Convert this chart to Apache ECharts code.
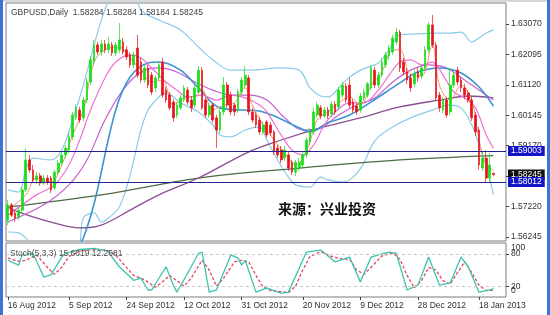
<!DOCTYPE html>
<html>
<head>
<meta charset="utf-8">
<script src="https://cdn.jsdelivr.net/npm/echarts@6/dist/echarts.min.js"></script>
<style>
html, body { margin: 0; padding: 0; background: #fff; }
#chart { width: 550px; height: 315px; }
</style>
</head>
<body>
<div id="chart"></div>
<script>
// daily bars: Sunday..Friday sessions, closed on Christmas and New Year
const firstBar = [2012, 7, 16]
const barSlots = 139
const closedDays = ['2012-12-25', '2013-01-01']
const dateTicks = ['16 Aug 2012', '5 Sep 2012', '24 Sep 2012', '12 Oct 2012', '31 Oct 2012',
    '20 Nov 2012', '9 Dec 2012', '28 Dec 2012', '18 Jan 2013']

const opens = [1.5678, 1.5727, 1.5701, 1.5688, 1.5710, 1.5775, 1.5871, 1.5839, 1.5807, 1.5820,
    1.5797, 1.5813, 1.5813, 1.5781, 1.5832, 1.5861, 1.5887, 1.5903, 1.5945, 1.6006,
    1.6031, 1.6006, 1.6063, 1.6121, 1.6185, 1.6240, 1.6217, 1.6243, 1.6224, 1.6240,
    1.6214, 1.6224, 1.6249, 1.6224, 1.6208, 1.6176, 1.6230, 1.6185, 1.6127, 1.6166,
    1.6143, 1.6102, 1.6134, 1.6185, 1.6095, 1.6079, 1.6057, 1.6015, 1.6038, 1.6063,
    1.6095, 1.6063, 1.6047, 1.6089, 1.6159, 1.6063, 1.6015, 1.6047, 1.6006, 1.5967,
    1.6025, 1.6111, 1.6079, 1.6047, 1.6031, 1.6089, 1.6111, 1.6134, 1.6025, 1.6015,
    1.5999, 1.5961, 1.5993, 1.5983, 1.5961, 1.5909, 1.5903, 1.5877, 1.5887, 1.5864,
    1.5832, 1.5845, 1.5855, 1.5887, 1.5929, 1.5961, 1.6015, 1.6038, 1.6012, 1.6031,
    1.6018, 1.6050, 1.6041, 1.6079, 1.6108, 1.6111, 1.6057, 1.6044, 1.6031, 1.6070,
    1.6079, 1.6102, 1.6159, 1.6111, 1.6143, 1.6176, 1.6204, 1.6217, 1.6249, 1.6281,
    1.6185, 1.6153, 1.6134, 1.6115, 1.6153, 1.6140, 1.6166, 1.6224, 1.6304, 1.6240,
    1.6079, 1.6031, 1.6063, 1.6025, 1.6111, 1.6159, 1.6127, 1.6102, 1.6086, 1.6063,
    1.6015, 1.5967, 1.5845, 1.5877, 1.5813, 1.58284]
const closes = [1.5727, 1.5694, 1.5685, 1.5710, 1.5775, 1.5871, 1.5839, 1.5807, 1.5820, 1.5797,
    1.5813, 1.5800, 1.5775, 1.5832, 1.5861, 1.5887, 1.5909, 1.5945, 1.6015, 1.6038,
    1.5999, 1.6063, 1.6121, 1.6192, 1.6240, 1.6217, 1.6243, 1.6224, 1.6243, 1.6214,
    1.6240, 1.6256, 1.6217, 1.6201, 1.6176, 1.6208, 1.6143, 1.6127, 1.6166, 1.6111,
    1.6089, 1.6134, 1.6176, 1.6079, 1.6063, 1.6038, 1.6006, 1.6047, 1.6070, 1.6102,
    1.6057, 1.6038, 1.6102, 1.6159, 1.6038, 1.6015, 1.6044, 1.5999, 1.5967, 1.6025,
    1.6111, 1.6047, 1.6025, 1.6025, 1.6089, 1.6127, 1.6143, 1.6025, 1.5999, 1.5983,
    1.5961, 1.5983, 1.5951, 1.5958, 1.5897, 1.5887, 1.5871, 1.5903, 1.5845, 1.5832,
    1.5864, 1.5864, 1.5887, 1.5935, 1.5961, 1.6025, 1.6047, 1.6012, 1.6031, 1.6012,
    1.6050, 1.6025, 1.6095, 1.6111, 1.6063, 1.6047, 1.6031, 1.6025, 1.6076, 1.6089,
    1.6115, 1.6166, 1.6111, 1.6143, 1.6185, 1.6208, 1.6230, 1.6262, 1.6281, 1.6166,
    1.6153, 1.6127, 1.6102, 1.6147, 1.6134, 1.6166, 1.6224, 1.6304, 1.6240, 1.6070,
    1.6038, 1.6063, 1.6015, 1.6111, 1.6143, 1.6121, 1.6102, 1.6079, 1.6063, 1.6006,
    1.5961, 1.5855, 1.5877, 1.5813, 1.5855, 1.58245]
const lows = [1.5662, 1.5688, 1.5672, 1.5678, 1.5701, 1.5768, 1.5829, 1.5797, 1.5794, 1.5788,
    1.5791, 1.5791, 1.5765, 1.5775, 1.5823, 1.5852, 1.5877, 1.5893, 1.5935, 1.5999,
    1.5990, 1.5996, 1.6054, 1.6111, 1.6176, 1.6208, 1.6204, 1.6214, 1.6214, 1.6204,
    1.6204, 1.6214, 1.6208, 1.6192, 1.6166, 1.6166, 1.6134, 1.6118, 1.6118, 1.6102,
    1.6079, 1.6089, 1.6127, 1.6070, 1.6054, 1.6031, 1.5993, 1.6006, 1.6031, 1.6057,
    1.6047, 1.6025, 1.6038, 1.6083, 1.6031, 1.6006, 1.6006, 1.5990, 1.5909, 1.5958,
    1.6015, 1.6038, 1.6015, 1.6012, 1.6022, 1.6079, 1.6102, 1.6015, 1.5990, 1.5974,
    1.5951, 1.5951, 1.5942, 1.5948, 1.5887, 1.5877, 1.5861, 1.5868, 1.5836, 1.5823,
    1.5820, 1.5836, 1.5845, 1.5877, 1.5919, 1.5951, 1.6006, 1.6002, 1.6006, 1.6002,
    1.6009, 1.6015, 1.6031, 1.6070, 1.6054, 1.6038, 1.6022, 1.6015, 1.6022, 1.6060,
    1.6070, 1.6095, 1.6102, 1.6102, 1.6134, 1.6166, 1.6192, 1.6208, 1.6240, 1.6153,
    1.6143, 1.6115, 1.6089, 1.6105, 1.6121, 1.6131, 1.6159, 1.6214, 1.6230, 1.6063,
    1.6025, 1.6022, 1.6006, 1.6015, 1.6102, 1.6111, 1.6089, 1.6066, 1.6054, 1.5996,
    1.5948, 1.5839, 1.5836, 1.5800, 1.5800, 1.58184]
const highs = [1.5743, 1.5733, 1.5710, 1.5717, 1.5784, 1.5909, 1.5887, 1.5855, 1.5832, 1.5829,
    1.5823, 1.5823, 1.5820, 1.5839, 1.5871, 1.5897, 1.5919, 1.5958, 1.6025, 1.6050,
    1.6041, 1.6073, 1.6134, 1.6204, 1.6256, 1.6249, 1.6256, 1.6256, 1.6265, 1.6249,
    1.6249, 1.6310, 1.6262, 1.6236, 1.6217, 1.6217, 1.6272, 1.6198, 1.6176, 1.6176,
    1.6153, 1.6143, 1.6185, 1.6198, 1.6105, 1.6089, 1.6066, 1.6057, 1.6079, 1.6111,
    1.6105, 1.6076, 1.6111, 1.6172, 1.6169, 1.6073, 1.6054, 1.6054, 1.6015, 1.6038,
    1.6137, 1.6121, 1.6089, 1.6054, 1.6099, 1.6137, 1.6172, 1.6143, 1.6038, 1.6025,
    1.6009, 1.5993, 1.5999, 1.5993, 1.5967, 1.5919, 1.5916, 1.5916, 1.5897, 1.5871,
    1.5871, 1.5877, 1.5897, 1.5945, 1.5974, 1.6038, 1.6057, 1.6047, 1.6041, 1.6041,
    1.6060, 1.6060, 1.6105, 1.6121, 1.6118, 1.6134, 1.6066, 1.6054, 1.6086, 1.6099,
    1.6121, 1.6176, 1.6169, 1.6153, 1.6198, 1.6217, 1.6240, 1.6272, 1.6294, 1.6288,
    1.6198, 1.6166, 1.6147, 1.6159, 1.6166, 1.6176, 1.6236, 1.6313, 1.6336, 1.6249,
    1.6089, 1.6073, 1.6073, 1.6166, 1.6153, 1.6169, 1.6137, 1.6115, 1.6095, 1.6073,
    1.6025, 1.5977, 1.5897, 1.5903, 1.5893, 1.58284]

// indicator lines as [bar index, price]
const maFast = [[0, 1.5710], [5, 1.5759], [8, 1.5813], [12, 1.5800], [15, 1.5855], [18, 1.5951], [21, 1.6031],
    [24, 1.6185], [27, 1.6224], [31, 1.6233], [34, 1.6198], [37, 1.6159], [40, 1.6121], [43, 1.6127],
    [46, 1.6047], [49, 1.6070], [52, 1.6076], [54, 1.6095], [57, 1.6031], [60, 1.6047], [63, 1.6054],
    [66, 1.6102], [68, 1.6047], [71, 1.5983], [74, 1.5935], [77, 1.5893], [80, 1.5855], [83, 1.5897],
    [86, 1.5999], [89, 1.6025], [92, 1.6054], [95, 1.6073], [98, 1.6047], [101, 1.6111], [104, 1.6153],
    [107, 1.6224], [109, 1.6224], [112, 1.6143], [115, 1.6140], [118, 1.6240], [120, 1.6111],
    [123, 1.6063], [126, 1.6111], [129, 1.6063], [131, 1.5935], [133, 1.5855], [135, 1.5839]]
const maPink = [[0, 1.5694], [8, 1.5759], [13, 1.5791], [17, 1.5855], [20, 1.5935], [23, 1.6031], [27, 1.6134],
    [30, 1.6185], [34, 1.6208], [37, 1.6198], [40, 1.6166], [44, 1.6121], [47, 1.6095], [50, 1.6073],
    [54, 1.6079], [58, 1.6063], [62, 1.6079], [66, 1.6070], [70, 1.6047], [72, 1.6025], [76, 1.5951],
    [79, 1.5903], [82, 1.5887], [85, 1.5919], [88, 1.5983], [91, 1.6025], [95, 1.6054], [99, 1.6054],
    [103, 1.6095], [106, 1.6143], [109, 1.6185], [112, 1.6192], [115, 1.6176], [118, 1.6185],
    [121, 1.6143], [124, 1.6089], [127, 1.6070], [130, 1.6038], [133, 1.5951], [135, 1.5909]]
const maViolet = [[0, 1.5672], [10, 1.5727], [17, 1.5791], [22, 1.5871], [27, 1.5999], [32, 1.6095],
    [37, 1.6153], [42, 1.6166], [47, 1.6153], [52, 1.6121], [57, 1.6095], [62, 1.6079], [67, 1.6079],
    [72, 1.6063], [77, 1.6006], [82, 1.5967], [87, 1.5974], [92, 1.6015], [97, 1.6047], [102, 1.6070],
    [107, 1.6121], [112, 1.6159], [117, 1.6176], [122, 1.6166], [127, 1.6127], [131, 1.6095], [135, 1.6063]]
const maBlue = [[14, 1.5550], [21, 1.5621], [30, 1.6031], [34, 1.6137], [39, 1.6182], [42, 1.6185],
    [48, 1.6159], [53, 1.6102], [59, 1.6038], [71, 1.6025], [81, 1.5974], [84, 1.5961], [89, 1.5990],
    [95, 1.6015], [101, 1.6057], [109, 1.6118], [114, 1.6153], [120, 1.6166], [126, 1.6150],
    [131, 1.6105], [135, 1.6044]]
const bandUpper = [[0, 1.5775], [3, 1.5768], [5, 1.5839], [7, 1.5877], [12, 1.5871], [15, 1.5903],
    [18, 1.5999], [21, 1.6111], [24, 1.6240], [26, 1.6320], [28, 1.6384], [30, 1.6448], [34, 1.6448],
    [37, 1.6352], [42, 1.6320], [48, 1.6288], [53, 1.6233], [57, 1.6192], [62, 1.6159], [67, 1.6159],
    [76, 1.6166], [81, 1.6159], [84, 1.6102], [87, 1.6076], [89, 1.6073], [92, 1.6102], [94, 1.6127],
    [98, 1.6159], [103, 1.6182], [106, 1.6224], [109, 1.6272], [114, 1.6275], [118, 1.6278],
    [123, 1.6278], [126, 1.6281], [129, 1.6249], [131, 1.6262], [133, 1.6278], [135, 1.6288]]
const bandLower = [[0, 1.5640], [3, 1.5637], [5, 1.5621], [8, 1.5582], [19, 1.5582], [21, 1.5685],
    [24, 1.5701], [26, 1.5672], [28, 1.5685], [31, 1.5720], [34, 1.5823], [37, 1.5967], [39, 1.6031],
    [42, 1.6073], [44, 1.6086], [48, 1.6054], [53, 1.6025], [57, 1.5983], [59, 1.5951], [62, 1.5945],
    [66, 1.5967], [70, 1.5977], [72, 1.5935], [75, 1.5871], [78, 1.5816], [80, 1.5791], [84, 1.5784],
    [87, 1.5816], [89, 1.5807], [93, 1.5800], [96, 1.5816], [99, 1.5861], [101, 1.5913], [103, 1.5945],
    [107, 1.5977], [112, 1.6006], [118, 1.6031], [123, 1.6047], [126, 1.6038], [129, 1.5983],
    [131, 1.5919], [133, 1.5855], [135, 1.5759]]
const maPurple = [[0, 1.5720], [3, 1.5704], [12, 1.5672], [20, 1.5653], [26, 1.5662], [34, 1.5710],
    [42, 1.5759], [53, 1.5813], [67, 1.5897], [76, 1.5935], [87, 1.5974], [98, 1.6006], [109, 1.6041],
    [120, 1.6063], [128, 1.6076], [135, 1.6070]]
const maGreen = [[0, 1.5720], [26, 1.5759], [53, 1.5813], [81, 1.5845], [109, 1.5871], [135, 1.5885]]

const stochK = [[0, 68], [3, 59], [4, 78], [7, 81], [10, 37], [12, 41], [15, 74], [16, 81], [20, 88], [24, 90],
    [28, 85], [29, 74], [31, 56], [35, 31], [37, 35], [39, 13], [40, 13], [44, 56], [46, 22], [47, 9],
    [50, 44], [53, 81], [54, 83], [56, 9], [58, 13], [62, 78], [64, 72], [65, 59], [66, 68], [69, 9],
    [72, 17], [75, 9], [76, 7], [78, 9], [83, 83], [87, 87], [91, 65], [95, 74], [98, 28], [101, 74],
    [103, 78], [106, 83], [108, 81], [111, 13], [114, 22], [117, 74], [120, 22], [123, 26], [126, 74],
    [128, 56], [131, 9], [134, 13], [135, 15.6619]]
const stochD = [[0, 72], [3, 66], [5, 68], [8, 78], [11, 55], [13, 42], [15, 55], [17, 75], [20, 85], [24, 88],
    [28, 86], [30, 78], [32, 62], [35, 40], [38, 32], [41, 18], [43, 28], [45, 40], [47, 30], [49, 20],
    [51, 35], [54, 68], [56, 50], [58, 20], [60, 35], [63, 65], [65, 68], [67, 65], [69, 40], [71, 18],
    [73, 12], [76, 10], [78, 8], [80, 20], [82, 50], [84, 75], [87, 84], [90, 75], [93, 70], [95, 70],
    [97, 50], [99, 42], [101, 55], [104, 76], [107, 82], [109, 70], [111, 40], [113, 17], [115, 30],
    [117, 55], [119, 50], [121, 30], [123, 24], [125, 45], [127, 65], [129, 45], [131, 22], [133, 12],
    [135, 12.2681]]

const priceTicks = [1.56245, 1.57220, 1.58195, 1.59170, 1.60145, 1.61120, 1.62095, 1.63070]
const stochLevels = [20, 80]
const stochEnds = [0, 100]
const levelLines = [1.59003, 1.58012]
const lastPrice = 1.58245

const monthNames = ['Jan', 'Feb', 'Mar', 'Apr', 'May', 'Jun', 'Jul', 'Aug', 'Sep', 'Oct', 'Nov', 'Dec']
const dates = []
let day = new Date(Date.UTC(firstBar[0], firstBar[1], firstBar[2]))
while (dates.length < barSlots) {
    const iso = day.toISOString().slice(0, 10)
    if (day.getUTCDay() !== 6 && !closedDays.includes(iso)) {
        dates.push(day.getUTCDate() + ' ' + monthNames[day.getUTCMonth()] + ' ' + day.getUTCFullYear())
    }
    day.setUTCDate(day.getUTCDate() + 1)
}
const candles = opens.map((o, i) => [o, closes[i], lows[i], highs[i]])

const font = 'Liberation Sans'
const txt = '#303030'

const lineSeries = (name, data, color, width) => ({
    name: name,
    type: 'line',
    data: data,
    xAxisIndex: 0,
    yAxisIndex: 0,
    symbol: 'none',
    smooth: 0.35,
    silent: true,
    lineStyle: { color: color, width: width },
    z: 3
})

const plainAxis = {
    axisLine: { show: false },
    splitLine: { show: false }
}

const myChart = echarts.init(document.getElementById('chart'), null, { renderer: 'canvas' })
const option = {
    animation: false,
    backgroundColor: '#ffffff',
    textStyle: { fontFamily: font },
    grid: [
        { left: 6, top: 3, width: 500, height: 238, show: true, borderColor: '#7c7c7c', borderWidth: 1, backgroundColor: '#fff' },
        { left: 6, top: 243, width: 500, height: 54, show: true, borderColor: '#7c7c7c', borderWidth: 1, backgroundColor: '#fff' }
    ],
    xAxis: [
        {
            type: 'category', gridIndex: 0, data: dates, boundaryGap: true,
            axisLine: { show: false }, axisTick: { show: false }, axisLabel: { show: false }, splitLine: { show: false }
        },
        {
            type: 'category', gridIndex: 1, data: dates, boundaryGap: true,
            axisLine: { show: false },
            axisTick: {
                show: true, alignWithLabel: true, length: 3, lineStyle: { color: '#404040' },
                interval: (i, v) => dateTicks.includes(v)
            },
            axisLabel: {
                show: true, color: txt, fontSize: 8.5, fontFamily: font, align: 'left', margin: 4,
                interval: (i, v) => dateTicks.includes(v)
            },
            splitLine: { show: false }
        }
    ],
    yAxis: [
        Object.assign({
            type: 'value', gridIndex: 0, position: 'right', min: 1.56111, max: 1.63743,
            axisTick: { show: true, length: 3, customValues: priceTicks, lineStyle: { color: '#404040' } },
            axisLabel: {
                show: true, customValues: priceTicks, color: txt, fontSize: 8.5, fontFamily: font, margin: 5,
                formatter: v => v.toFixed(5)
            }
        }, plainAxis),
        Object.assign({
            type: 'value', gridIndex: 1, position: 'right', min: 0, max: 100,
            axisTick: { show: true, length: 3, customValues: stochLevels, lineStyle: { color: '#404040' } },
            axisLabel: {
                show: true, customValues: stochLevels, color: txt, fontSize: 8.5, fontFamily: font, margin: 5
            }
        }, plainAxis),
        Object.assign({
            type: 'value', gridIndex: 1, position: 'right', min: 0, max: 100,
            axisTick: { show: false },
            axisLabel: {
                show: true, customValues: stochEnds, color: txt, fontSize: 8.5, fontFamily: font, margin: 5,
                formatter: v => v === 100 ? '{hi|100}' : '{lo|0}',
                rich: {
                    hi: { fontSize: 8.5, fontFamily: font, color: txt, padding: [10, 0, 0, 0] },
                    lo: { fontSize: 8.5, fontFamily: font, color: txt, padding: [0, 0, 13, 0] }
                }
            }
        }, plainAxis),
        Object.assign({
            type: 'value', gridIndex: 0, position: 'right', min: 1.56111, max: 1.63743, z: 2,
            axisTick: { show: false },
            axisLabel: {
                show: true, customValues: [lastPrice], margin: 2, formatter: v => v.toFixed(5),
                color: '#fff', backgroundColor: '#101010', fontSize: 8.5, fontFamily: font, padding: [1, 3, 0, 3]
            }
        }, plainAxis)
    ],
    series: [
        lineSeries('upper band', bandUpper, '#8ccbe8', 1.2),
        lineSeries('lower band', bandLower, '#8ccbe8', 1.2),
        lineSeries('green', maGreen, '#4d6b45', 1.2),
        lineSeries('purple', maPurple, '#87508f', 1.3),
        lineSeries('violet', maViolet, '#c75fcf', 1.2),
        lineSeries('blue', maBlue, '#3d93d0', 1.6),
        lineSeries('pink', maPink, '#f070d8', 1.2),
        lineSeries('fast', maFast, '#f59070', 1),
        {
            name: 'GBPUSD',
            type: 'candlestick',
            xAxisIndex: 0,
            yAxisIndex: 0,
            data: candles,
            barWidth: 2.2,
            silent: true,
            z: 5,
            itemStyle: {
                color: '#16e016', color0: '#e8121a',
                borderColor: '#16e016', borderColor0: '#e8121a', borderWidth: 0.7
            },
            markLine: {
                silent: true,
                symbol: 'none',
                animation: false,
                z: 10,
                data: levelLines.map(v => ({
                    yAxis: v,
                    lineStyle: { color: '#23238f', width: 1, type: 'solid' },
                    label: { show: true, position: 'end', distance: 2, formatter: v.toFixed(5),
                        color: '#fff', backgroundColor: '#1515c8', fontSize: 8.5, fontFamily: font, padding: [1, 3, 0, 3] }
                }))
            }
        },
        {
            name: 'Stoch K',
            type: 'line',
            xAxisIndex: 1,
            yAxisIndex: 1,
            data: stochK,
            symbol: 'none',
            silent: true,
            lineStyle: { color: '#3cc3b0', width: 1.3 },
            z: 4,
            markLine: {
                silent: true,
                symbol: 'none',
                label: { show: false },
                lineStyle: { color: '#c8c8c8', type: [3, 3], width: 1 },
                data: stochLevels.map(v => ({ yAxis: v }))
            }
        },
        {
            name: 'Stoch D',
            type: 'line',
            xAxisIndex: 1,
            yAxisIndex: 1,
            data: stochD,
            symbol: 'none',
            silent: true,
            lineStyle: { color: '#e0485a', width: 1.3, type: [3, 2] },
            z: 3
        }
    ],
    graphic: [
        { type: 'rect', left: 0, top: 0, shape: { width: 3, height: 315 }, style: { fill: '#3f72d6' } },
        { type: 'rect', left: 547, top: 0, shape: { width: 3, height: 315 }, style: { fill: '#3f72d6' } },
        { type: 'rect', left: 3, top: 0, shape: { width: 544, height: 2 }, style: { fill: '#d8d8d8' } },
        {
            type: 'text', left: 11, top: 8, z: 20,
            style: { text: 'GBPUSD,Daily  1.58284 1.58284 1.58184 1.58245', fill: '#404040', font: '8.5px "Liberation Sans"' }
        },
        {
            type: 'text', left: 10, top: 249, z: 20,
            style: { text: 'Stoch(5,3,3) 15.6619 12.2681', fill: '#505050', font: '8.5px "Liberation Sans"' }
        },
        {
            type: 'text', left: 278, top: 202, z: 20,
            style: { text: '来源：兴业投资', fill: '#111', font: 'bold 14px "Noto Sans CJK SC"' }
        }
    ]
}
myChart.setOption(option)
window.addEventListener('resize', function () {
    myChart.resize()
})
</script>
</body>
</html>
